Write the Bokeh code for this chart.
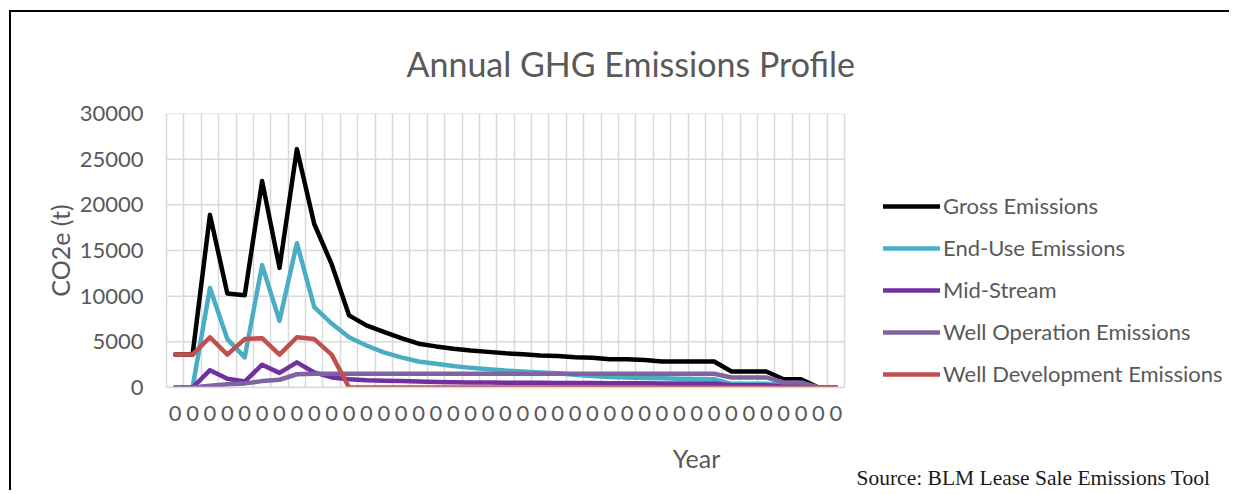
from bokeh.plotting import figure
from bokeh.models import FixedTicker, Legend, LegendItem, Range1d, Title
from bokeh.embed import file_html
from bokeh.resources import INLINE

# ---------------- data ----------------
year_labels = ["0"] * 39

gross = [3600, 3600, 18900, 10300, 10100, 22600, 13100, 26100, 17900, 13500,
         7900, 6800, 6100, 5400, 4800, 4500, 4250, 4050, 3900, 3750,
         3650, 3500, 3450, 3300, 3250, 3100, 3100, 3000, 2850, 2850,
         2850, 2850, 1750, 1750, 1750, 900, 900, 0, 0]

end_use = [0, 0, 10900, 5300, 3300, 13400, 7300, 15800, 8800, 7000,
           5500, 4600, 3850, 3300, 2850, 2600, 2350, 2150, 2000, 1850,
           1750, 1650, 1550, 1400, 1250, 1150, 1100, 1050, 1000, 950,
           920, 900, 400, 400, 400, 250, 250, 0, 0]

mid_stream = [0, 0, 1900, 950, 650, 2500, 1600, 2750, 1650, 1100,
              900, 800, 750, 700, 650, 600, 570, 550, 540, 530,
              520, 510, 500, 490, 480, 470, 460, 455, 450, 445,
              440, 440, 250, 250, 250, 120, 120, 0, 0]

well_operation = [0, 0, 200, 350, 450, 700, 850, 1450, 1500, 1500,
                  1500, 1500, 1500, 1500, 1500, 1500, 1500, 1500, 1500, 1500,
                  1500, 1500, 1500, 1500, 1500, 1500, 1500, 1500, 1500, 1500,
                  1500, 1500, 1100, 1100, 1100, 550, 550, 0, 0]

well_development = [3600, 3600, 5500, 3600, 5300, 5400, 3600, 5500, 5300, 3600,
                    0, 0, 0, 0, 0, 0, 0, 0, 0, 0,
                    0, 0, 0, 0, 0, 0, 0, 0, 0, 0,
                    0, 0, 0, 0, 0, 0, 0, 0, 0]

series_names = ["Gross Emissions", "End-Use Emissions", "Mid-Stream",
                "Well Operation Emissions", "Well Development Emissions"]
series_values = [gross, end_use, mid_stream, well_operation, well_development]
series_colors = ["#000000", "#4BACC6", "#7030A0", "#8064A2", "#C0504D"]

y_ticks = [0, 5000, 10000, 15000, 20000, 25000, 30000]
y_tick_labels = ["0", "5000", "10000", "15000", "20000", "25000", "30000"]

title_text = "Annual GHG Emissions Profile"
x_title = "Year"
y_title = "CO2e (t)"
source_text = "Source: BLM Lease Sale Emissions Tool"

# ---------------- layout constants (pixels) ----------------
W, H = 1220, 480
LEFT, RIGHT, TOP, BOTTOM = 155, 5, 101, 105
PLOT_W = 678                      # width of the category area
n = len(year_labels)
xs = list(range(n))
frame_w = W - LEFT - RIGHT
x_end = -0.5 + n * frame_w / PLOT_W   # frame extends right to hold the legend

TXT = "#595959"
GRID = "#D9D9D9"
FONT = "Lato"

p = figure(width=W, height=H, output_backend="svg", toolbar_location=None,
           x_range=Range1d(-0.5, x_end), y_range=Range1d(0, 30000),
           min_border_left=LEFT, min_border_right=RIGHT,
           min_border_top=TOP, min_border_bottom=BOTTOM)
p.outline_line_color = None
p.background_fill_color = "white"
p.border_fill_color = "white"
# outer chart-area frame: left and top edges
p.styles = {"margin-left": "9px", "margin-top": "10px",
            "border-left": "2px solid #000000",
            "border-top": "2px solid #000000"}

# title
p.title.text = title_text
p.title.align = "left"
p.title.offset = 240
p.title.vertical_align = "middle"
p.title.standoff = 57
p.title.text_font = FONT
p.title.text_font_size = "34px"
p.title.text_font_style = "normal"
p.title.text_color = TXT

# grids: vertical lines at category boundaries, horizontal lines at y ticks
p.xgrid.ticker = FixedTicker(ticks=[i - 0.5 for i in range(n + 1)])
p.xgrid.grid_line_color = GRID
p.xgrid.grid_line_width = 1.5
p.ygrid.visible = False
p.segment(x0=[-0.5] * len(y_ticks), x1=[n - 0.5] * len(y_ticks),
          y0=y_ticks, y1=y_ticks, line_color=GRID, line_width=1.5,
          level="underlay")

# x axis
p.xaxis.bounds = (-0.5, n - 0.5)
p.xaxis.ticker = FixedTicker(ticks=xs)
p.xaxis.major_label_overrides = {i: lab for i, lab in enumerate(year_labels)}
p.xaxis.axis_line_color = GRID
p.xaxis.axis_line_width = 1.5
p.xaxis.major_tick_line_color = None
p.xaxis.minor_tick_line_color = None
p.xaxis.major_tick_out = 0
p.xaxis.major_tick_in = 0
p.xaxis.major_label_standoff = 18
p.xaxis.major_label_text_font = FONT
p.xaxis.major_label_text_font_size = "22px"
p.xaxis.major_label_text_color = TXT
p.xaxis.axis_label = x_title
p.xaxis.axis_label_text_font = FONT
p.xaxis.axis_label_text_font_size = "25px"
p.xaxis.axis_label_text_font_style = "normal"
p.xaxis.axis_label_text_color = TXT
p.xaxis.axis_label_standoff = 19

# y axis
p.yaxis.ticker = FixedTicker(ticks=y_ticks)
p.yaxis.major_label_overrides = {v: lab for v, lab in zip(y_ticks, y_tick_labels)}
p.yaxis.axis_line_color = GRID
p.yaxis.axis_line_width = 1.5
p.yaxis.major_tick_line_color = None
p.yaxis.minor_tick_line_color = None
p.yaxis.major_tick_out = 0
p.yaxis.major_tick_in = 0
p.yaxis.major_label_standoff = 23
p.yaxis.major_label_text_font = FONT
p.yaxis.major_label_text_font_size = "22px"
p.yaxis.major_label_text_color = TXT
p.yaxis.axis_label = y_title
p.yaxis.axis_label_text_font = FONT
p.yaxis.axis_label_text_font_size = "25px"
p.yaxis.axis_label_text_font_style = "normal"
p.yaxis.axis_label_text_color = TXT
p.yaxis.axis_label_standoff = 2

# lines
renderers = []
for name, vals, col in zip(series_names, series_values, series_colors):
    r = p.line(xs, vals, line_color=col, line_width=4.5,
               line_join="round", line_cap="round")
    renderers.append(r)

legend = Legend(items=[LegendItem(label=nm, renderers=[r])
                       for nm, r in zip(series_names, renderers)],
                location=(717, 0), orientation="vertical",
                border_line_color=None, background_fill_alpha=0,
                glyph_width=57, glyph_height=20, label_height=20,
                spacing=15, label_standoff=3, padding=0, margin=0,
                label_text_font=FONT, label_text_font_size="22px",
                label_text_color=TXT)
p.add_layout(legend)

# source note under the chart, right-hand side
p.add_layout(Title(text=source_text, align="left", offset=690,
                   vertical_align="top", standoff=-20,
                   text_font="Liberation Serif", text_font_size="21.5px",
                   text_font_style="normal", text_color="#1A1A1A"), "below")

open("out.html", "w").write(file_html(p, INLINE))
